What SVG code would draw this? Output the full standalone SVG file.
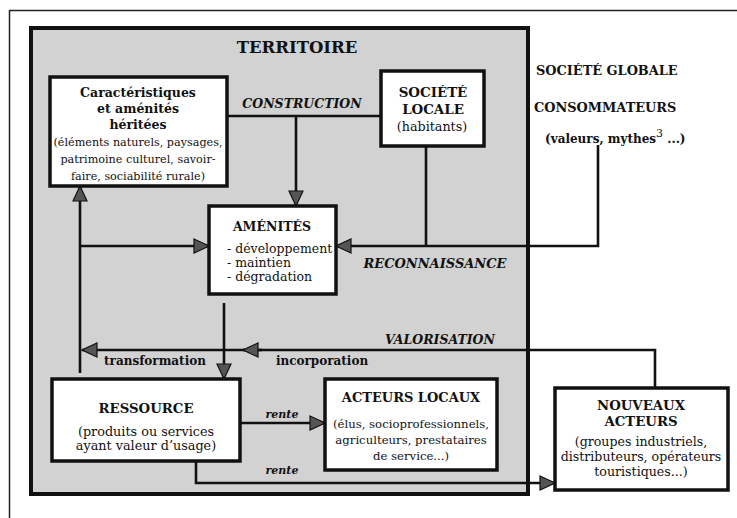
<svg xmlns="http://www.w3.org/2000/svg" width="737" height="518" viewBox="0 0 737 518">
<style>
.box{fill:#fff;stroke:#111;stroke-width:3.5}
.ln{fill:none;stroke:#111;stroke-width:2.6}
.h{font-weight:bold;font-size:12.5px;fill:#111;text-anchor:middle}
.lbl{font-weight:bold;font-size:12px;fill:#111;text-anchor:middle}
.it{font-weight:bold;font-style:italic;font-size:12.5px;fill:#111;text-anchor:middle}
.t{font-size:12px;fill:#111;text-anchor:middle}
.tl{font-size:12.5px;fill:#111}
</style>
<defs>
<marker id="ar" markerUnits="userSpaceOnUse" markerWidth="17" markerHeight="17" refX="16" refY="8" orient="auto">
<path d="M1,1 L16,8 L1,15 z" fill="#555" stroke="#111" stroke-width="1.2"/>
</marker>
</defs>
<rect x="0" y="0" width="737" height="518" fill="#fff"/>
<rect x="9.5" y="10.5" width="740" height="520" fill="none" stroke="#222" stroke-width="1.5"/>

<g font-family="DejaVu Serif, Liberation Serif, serif">
<g id="territoire">
<rect x="31" y="28" width="497" height="466" fill="#d2d2d2" stroke="#111" stroke-width="4"/>
<text x="297" y="53" class="h" style="font-size:16.5px">TERRITOIRE</text>
</g>

<g id="exterieur">
<text x="536" y="75" class="h" style="text-anchor:start;font-size:12.9px">SOCIÉTÉ GLOBALE</text>
<text x="534" y="112" class="h" style="text-anchor:start;font-size:12.9px">CONSOMMATEURS</text>
<text x="545" y="143" class="h" style="text-anchor:start;font-size:12px">(valeurs, mythes<tspan dy="-6" style="font-weight:normal;font-size:11px">3</tspan><tspan dy="6"> ...)</tspan></text>
</g>

<g id="connectors">
<path class="ln" d="M227,116 H381"/>
<path class="ln" d="M296,116 V206" marker-end="url(#ar)"/>
<path class="ln" d="M426,146 V246"/>
<path class="ln" d="M598,145 V246 H336" marker-end="url(#ar)"/>
<path class="ln" d="M80,373 V186" marker-end="url(#ar)"/>
<path class="ln" d="M80,246 H209" marker-end="url(#ar)"/>
<path class="ln" d="M224,303 V379" marker-end="url(#ar)"/>
<path class="ln" d="M655,388 V350 H82" marker-end="url(#ar)"/>
<path class="ln" d="M262,350 H243" marker-end="url(#ar)"/>
<path class="ln" d="M240,423 H325" marker-end="url(#ar)"/>
<path class="ln" d="M196,461 V483 H555" marker-end="url(#ar)"/>
<text x="302" y="108" class="it">CONSTRUCTION</text>
<text x="435" y="268" class="it" style="font-size:13px">RECONNAISSANCE</text>
<text x="440" y="344" class="it">VALORISATION</text>
<text x="155" y="365" class="lbl">transformation</text>
<text x="322" y="365" class="lbl">incorporation</text>
<text x="282" y="418" class="it" style="font-size:11px">rente</text>
<text x="282" y="474" class="it" style="font-size:11px">rente</text>
</g>

<g id="caracteristiques">
<rect x="50" y="77" width="177" height="109" class="box"/>
<text x="138" y="97" class="h">Caractéristiques</text>
<text x="138" y="113" class="h">et aménités</text>
<text x="138" y="129" class="h">héritées</text>
<text x="138" y="146" class="t" style="font-size:11.2px">(éléments naturels, paysages,</text>
<text x="138" y="163" class="t" style="font-size:11.2px">patrimoine culturel, savoir-</text>
<text x="138" y="180" class="t" style="font-size:11.2px">faire, sociabilité rurale)</text>
</g>

<g id="societe-locale">
<rect x="381" y="71" width="103" height="75" class="box"/>
<text x="433" y="97" class="h" style="font-size:13.4px">SOCIÉTÉ</text>
<text x="433" y="114" class="h" style="font-size:13.4px">LOCALE</text>
<text x="432" y="131" class="t" style="font-size:12.7px">(habitants)</text>
</g>

<g id="amenites">
<rect x="209" y="206" width="127" height="88" class="box"/>
<text x="272" y="231" class="h">AMÉNITÉS</text>
<text x="227" y="253" class="tl">- développement</text>
<text x="227" y="267" class="tl">- maintien</text>
<text x="227" y="281" class="tl">- dégradation</text>
</g>

<g id="ressource">
<rect x="52" y="379" width="188" height="82" class="box"/>
<text x="146" y="413" class="h" style="font-size:13.3px">RESSOURCE</text>
<text x="146" y="436" class="t" style="font-size:12.8px">(produits ou services</text>
<text x="146" y="450" class="t" style="font-size:12.8px">ayant valeur d’usage)</text>
</g>

<g id="acteurs-locaux">
<rect x="325" y="379" width="172" height="91" class="box"/>
<text x="411" y="402" class="h" style="font-size:13px">ACTEURS LOCAUX</text>
<text x="411" y="428" class="t" style="font-size:11.7px">(élus, socioprofessionnels,</text>
<text x="411" y="444" class="t" style="font-size:11.7px">agriculteurs, prestataires</text>
<text x="411" y="460" class="t" style="font-size:11.7px">de service...)</text>
</g>

<g id="nouveaux-acteurs">
<rect x="555" y="388" width="173" height="102" class="box"/>
<text x="641" y="410" class="h" style="font-size:13.3px">NOUVEAUX</text>
<text x="641" y="426" class="h" style="font-size:13.3px">ACTEURS</text>
<text x="641" y="446" class="t" style="font-size:12.6px">(groupes industriels,</text>
<text x="641" y="461" class="t" style="font-size:12.6px">distributeurs, opérateurs</text>
<text x="641" y="476" class="t" style="font-size:12.6px">touristiques...)</text>
</g>
</g>
</svg>
